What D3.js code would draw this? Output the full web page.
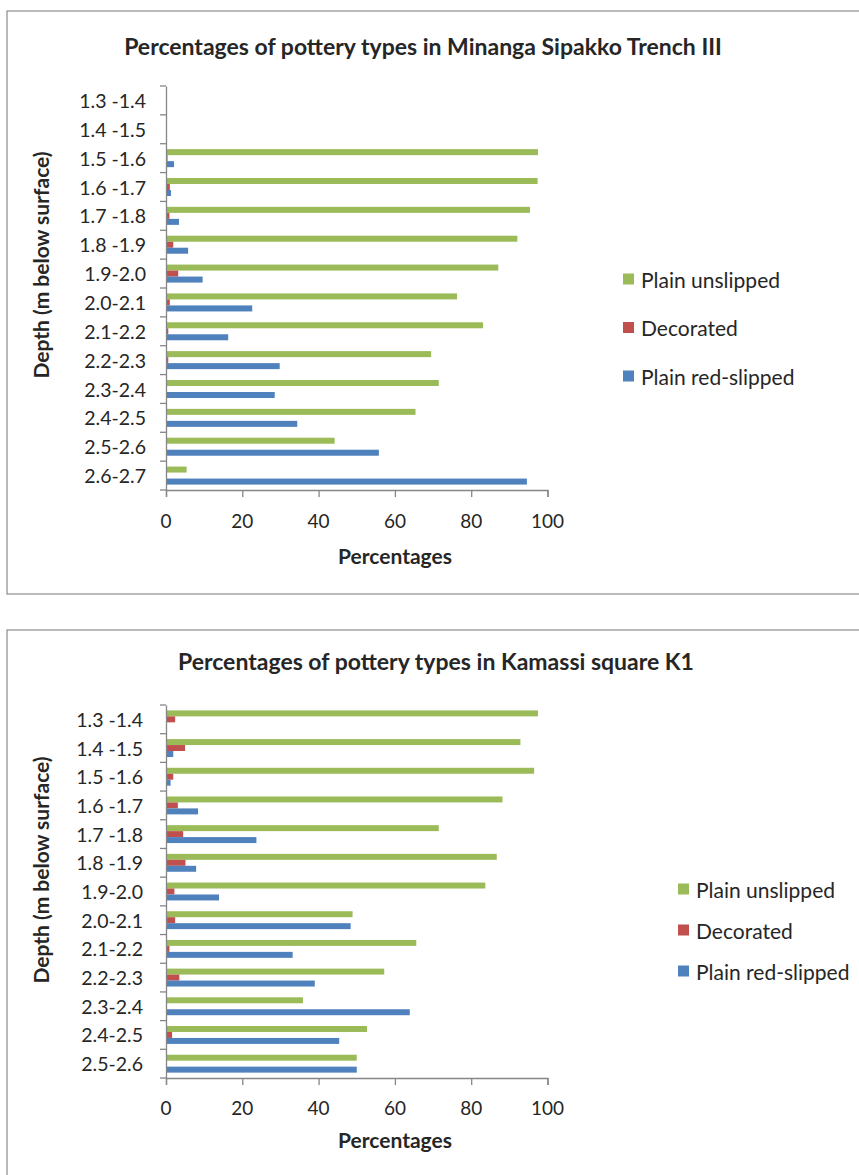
<!DOCTYPE html>
<html>
<head>
<meta charset="utf-8">
<script src="https://cdn.jsdelivr.net/npm/d3@7/dist/d3.min.js"></script>
<style>
  html, body { margin: 0; padding: 0; background: #fff; }
  svg { display: block; }
  text { font-family: Lato, "Open Sans", sans-serif; fill: #262626; }
</style>
</head>
<body>
<svg id="chart" width="859" height="1175"></svg>
<script>
// Percentages of pottery types by depth (m below surface)
const seriesNames = ["Plain unslipped", "Decorated", "Plain red-slipped"];
const seriesColors = ["#9BBB59", "#C0504D", "#4F81BD"];
const xTicks = [0, 20, 40, 60, 80, 100];

// Minanga Sipakko, Trench III
const depthsSipakko = ["1.3 -1.4", "1.4 -1.5", "1.5 -1.6", "1.6 -1.7", "1.7 -1.8", "1.8 -1.9",
  "1.9-2.0", "2.0-2.1", "2.1-2.2", "2.2-2.3", "2.3-2.4", "2.4-2.5", "2.5-2.6", "2.6-2.7"];
const unslippedSipakko  = [0, 0, 97.5, 97.4, 95.4, 92.1, 87.1, 76.3, 83.1, 69.5, 71.5, 65.4, 44.2, 5.4];
const decoratedSipakko  = [0, 0, 0.4, 1.0, 0.9, 1.9, 3.2, 1.0, 0.6, 0.6, 0, 0.2, 0, 0];
const redSlippedSipakko = [0, 0, 2.1, 1.3, 3.4, 5.8, 9.6, 22.6, 16.3, 29.8, 28.5, 34.4, 55.8, 94.6];

// Kamassi, square K1
const depthsKamassi = ["1.3 -1.4", "1.4 -1.5", "1.5 -1.6", "1.6 -1.7", "1.7 -1.8", "1.8 -1.9",
  "1.9-2.0", "2.0-2.1", "2.1-2.2", "2.2-2.3", "2.3-2.4", "2.4-2.5", "2.5-2.6"];
const unslippedKamassi  = [97.5, 92.9, 96.5, 88.2, 71.5, 86.7, 83.7, 48.9, 65.6, 57.2, 35.9, 52.7, 50.0];
const decoratedKamassi  = [2.4, 5.0, 1.9, 3.1, 4.5, 5.1, 2.2, 2.4, 0.9, 3.5, 0, 1.6, 0];
const redSlippedKamassi = [0, 1.9, 1.2, 8.4, 23.7, 7.9, 13.9, 48.4, 33.2, 39.0, 63.9, 45.4, 50.0];

const svg = d3.select("#chart");
const axisColor = "#868686";

function drawPanel(cfg) {
  const g = svg.append("g");

  // outer chart frame (runs off the right edge)
  g.append("rect")
    .attr("x", cfg.frame[0]).attr("y", cfg.frame[1])
    .attr("width", cfg.frame[2]).attr("height", cfg.frame[3])
    .attr("fill", "none").attr("stroke", "#8c8c8c").attr("stroke-width", 1.2);

  g.append("text")
    .attr("x", cfg.titleX).attr("y", cfg.titleY)
    .attr("text-anchor", "middle").attr("dominant-baseline", "central")
    .style("font-weight", "bold").style("font-size", "23px")
    .text(cfg.title);

  const x = d3.scaleLinear().domain([0, 100]).range([cfg.x0, cfg.x1]);
  const pad = 0.376;
  const y = d3.scaleBand().domain(cfg.depths)
    .range([cfg.yTop, cfg.yBottom]).paddingInner(pad).paddingOuter(pad / 2);
  const ySeries = d3.scaleBand().domain(seriesNames).range([0, y.bandwidth()]);

  const rows = cfg.depths.map((d, i) => ({
    depth: d,
    values: [cfg.unslipped[i], cfg.decorated[i], cfg.redSlipped[i]]
  }));

  // bars
  const grp = g.append("g").selectAll("g").data(rows).join("g")
    .attr("transform", d => `translate(0,${y(d.depth)})`);
  grp.selectAll("rect")
    .data(d => d.values.map((v, k) => ({ name: seriesNames[k], value: v, color: seriesColors[k] })))
    .join("rect")
    .attr("x", x(0))
    .attr("y", d => ySeries(d.name))
    .attr("width", d => x(d.value) - x(0))
    .attr("height", ySeries.bandwidth())
    .attr("fill", d => d.color);

  // category axis
  const yAxis = g.append("g")
    .attr("transform", `translate(${x(0)},0)`)
    .call(d3.axisLeft(y).tickSize(0).tickFormat(""));
  yAxis.select(".domain").attr("stroke", axisColor).attr("stroke-width", 1.3);
  // tick marks on category boundaries
  const bounds = d3.range(cfg.depths.length + 1).map(i => cfg.yTop + i * y.step());
  g.append("g").selectAll("line").data(bounds).join("line")
    .attr("x1", x(0) - 6).attr("x2", x(0))
    .attr("y1", d => d).attr("y2", d => d)
    .attr("stroke", axisColor).attr("stroke-width", 1.3);
  g.append("g").selectAll("text").data(cfg.depths).join("text")
    .attr("x", cfg.labelRight)
    .attr("y", d => y(d) + y.bandwidth() / 2)
    .attr("text-anchor", "end").attr("dominant-baseline", "central")
    .style("font-size", "19.5px")
    .text(d => d);

  // value axis
  const xAxis = g.append("g")
    .attr("transform", `translate(0,${cfg.yBottom})`)
    .call(d3.axisBottom(x).tickValues(xTicks).tickSize(7).tickFormat(d3.format("d")));
  xAxis.select(".domain").attr("stroke", axisColor).attr("stroke-width", 1.3);
  xAxis.selectAll(".tick line").attr("stroke", axisColor).attr("stroke-width", 1.3);
  xAxis.selectAll(".tick text").remove();
  g.append("g").selectAll("text").data(xTicks).join("text")
    .attr("x", d => x(d)).attr("y", cfg.yBottom + cfg.tickLabelDy)
    .attr("text-anchor", "middle").attr("dominant-baseline", "central")
    .style("font-size", "19px")
    .text(d => d);

  g.append("text")
    .attr("x", cfg.xTitleX).attr("y", cfg.yBottom + cfg.xTitleDy)
    .attr("text-anchor", "middle").attr("dominant-baseline", "central")
    .style("font-weight", "bold").style("font-size", "21px")
    .text("Percentages");

  g.append("text")
    .attr("transform", `translate(${cfg.yTitleX},${cfg.yTitleY}) rotate(-90)`)
    .attr("text-anchor", "middle").attr("dominant-baseline", "central")
    .style("font-weight", "bold").style("font-size", "21px")
    .text("Depth (m below surface)");

  // legend
  const leg = g.append("g").selectAll("g").data(seriesNames).join("g")
    .attr("transform", (d, i) => `translate(${cfg.legendX},${cfg.legendY + i * cfg.legendStep})`);
  leg.append("rect")
    .attr("x", 0).attr("y", -5.5).attr("width", 11).attr("height", 11)
    .attr("fill", (d, i) => seriesColors[i]);
  leg.append("text")
    .attr("x", 18).attr("y", 0)
    .attr("dominant-baseline", "central")
    .style("font-size", "21px")
    .text(d => d);
}

drawPanel({
  title: "Percentages of pottery types in Minanga Sipakko Trench III",
  frame: [7, 11, 870, 583], titleX: 423, titleY: 46,
  depths: depthsSipakko, unslipped: unslippedSipakko,
  decorated: decoratedSipakko, redSlipped: redSlippedSipakko,
  x0: 166, x1: 547.5, yTop: 86, yBottom: 490, labelRight: 146,
  tickLabelDy: 30, xTitleDy: 65, xTitleX: 395, yTitleX: 40, yTitleY: 265,
  legendX: 623, legendY: 279, legendStep: 48.5
});

drawPanel({
  title: "Percentages of pottery types in Kamassi square K1",
  frame: [7, 630, 870, 600], titleX: 436, titleY: 661,
  depths: depthsKamassi, unslipped: unslippedKamassi,
  decorated: decoratedKamassi, redSlipped: redSlippedKamassi,
  x0: 166, x1: 547.5, yTop: 705, yBottom: 1078, labelRight: 143,
  tickLabelDy: 29, xTitleDy: 61, xTitleX: 395, yTitleX: 40, yTitleY: 870,
  legendX: 678, legendY: 889, legendStep: 41
});
</script>
</body>
</html>
